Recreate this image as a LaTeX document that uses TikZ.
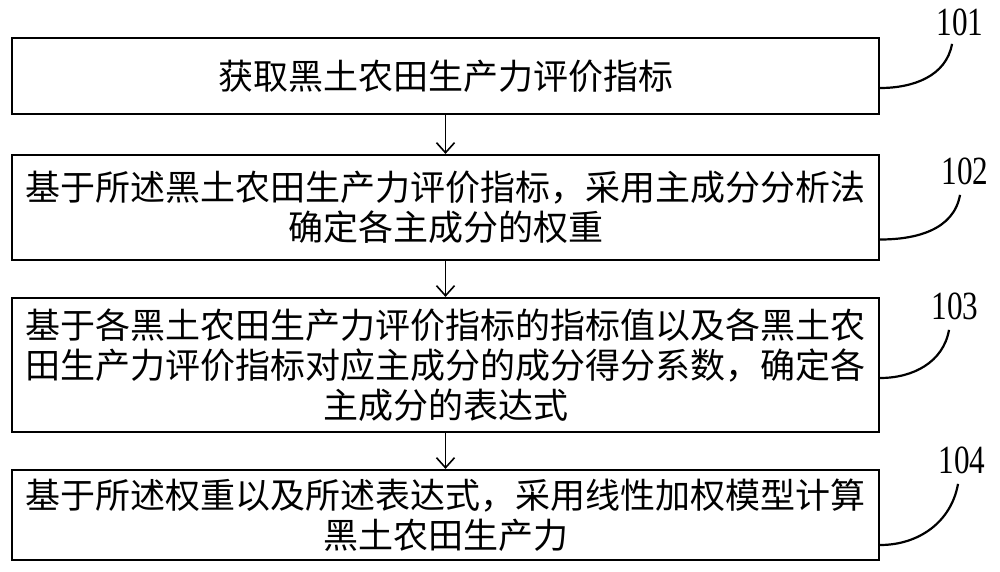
\documentclass[tikz,border=0pt]{standalone}
\usepackage{fontspec}
\setmainfont{Liberation Serif}
\newfontfamily\cjk{Noto Sans CJK SC}
\usetikzlibrary{calc,arrows.meta}

\begin{document}
\begin{tikzpicture}[x=0.5pt,y=-0.5pt,>={Straight Barb[length=5pt,width=9pt]},
stepbox/.style={draw,line width=1.1pt,minimum width=433.5pt,inner sep=0pt,align=center,font=\cjk\fontsize{17.5}{20}\selectfont},
stepno/.style={inner sep=1pt,font=\fontsize{20}{20}\selectfont},
leader/.style={line width=1.1pt}]
\useasboundingbox (0,0) rectangle (1000,572);
\node[stepbox,minimum height=38pt] (s1) at (445.5,76) {获取黑土农田生产力评价指标};
\node[stepbox,minimum height=52.5pt] (s2) at (445.5,207.5) {基于所述黑土农田生产力评价指标，采用主成分分析法\\确定各主成分的权重};
\node[stepbox,minimum height=67pt] (s3) at (445.5,365) {基于各黑土农田生产力评价指标的指标值以及各黑土农\\田生产力评价指标对应主成分的成分得分系数，确定各\\主成分的表达式};
\node[stepbox,minimum height=45pt] (s4) at (445.5,515) {基于所述权重以及所述表达式，采用线性加权模型计算\\黑土农田生产力};
\foreach \a/\b in {s1/s2,s2/s3,s3/s4}
\draw[thin,line width=0.8pt,->] (\a) -- (\b);
\node[stepno] (l1) at (960,22) {\scalebox{0.78}[1]{101}};
\node[stepno] (l2) at (965,171) {\scalebox{0.78}[1]{102}};
\node[stepno] (l3) at (955,306) {\scalebox{0.78}[1]{103}};
\node[stepno] (l4) at (962,460) {\scalebox{0.78}[1]{104}};
\draw[leader] ($(s1.east)+(0,12)$) to[out=0,in=-100] ($(l1.south)+(-8,6)$);
\draw[leader] ($(s2.east)+(0,32)$) to[out=0,in=-100] ($(l2.south)+(-5,8)$);
\draw[leader] ($(s3.east)+(0,13)$) to[out=0,in=-100] ($(l3.south)+(-6,8)$);
\draw[leader] ($(s4.east)+(0,30)$) to[out=0,in=-100] ($(l4.south)+(-4,8)$);
\end{tikzpicture}
\end{document}
